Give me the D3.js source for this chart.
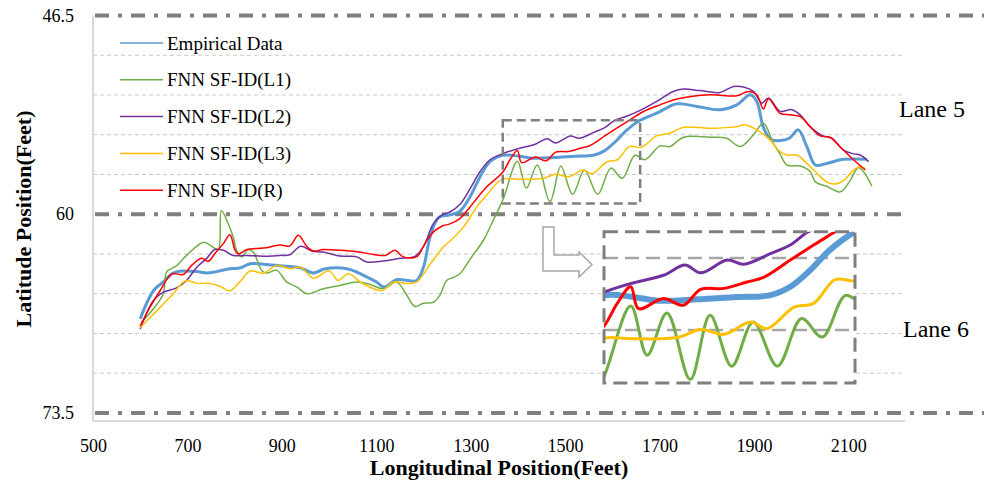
<!DOCTYPE html>
<html>
<head>
<meta charset="utf-8">
<script src="https://cdn.jsdelivr.net/npm/d3@7"></script>
<style>
body { margin: 0; background: #fff; }
text { font-family: "Liberation Serif", "Times New Roman", serif; fill: #000; }
</style>
</head>
<body>
<div id="chart"></div>
<script>
// lane boundaries and light grid values (feet)
var laneLines = [46.5, 60, 73.5];
var gridLines = [49.2, 51.9, 54.6, 57.3, 62.7, 65.4, 68.1, 70.8];
var xTicks = [500, 700, 900, 1100, 1300, 1500, 1700, 1900, 2100];
var yTicks = [46.5, 60, 73.5];
var seriesNames = ["Empirical Data", "FNN SF-ID(L1)", "FNN SF-ID(L2)", "FNN SF-ID(L3)", "FNN SF-ID(R)"];
var seriesColors = ["#5b9bd5", "#70ad47", "#7030a0", "#ffc000", "#ff0000"];

var empiricalX = [600,628,649,670,691,720,741,762,790,811,833,861,896,938,967,990,1040,1073,1100,1117,1143,1185,1200,1214,1232,1256,1277,1299,1320,1341,1368,1400,1430,1476,1522,1560,1584,1607,1630,1659,1694,1737,1779,1828,1864,1892,1906,1920,1935,1955,1975,1994,2012,2030,2054,2090,2139];
var empiricalY = [67.1,65.2,64.6,64.0,63.86,63.9,64.0,63.9,63.7,63.66,63.36,63.4,63.5,63.63,64.0,63.72,63.72,64.15,64.6,64.95,64.45,64.5,63.6,61.55,60.23,60.05,59.8,58.8,57.45,56.43,56.0,56.05,56.2,56.15,56.06,56.0,55.68,55.06,54.3,53.62,53.14,52.5,52.68,52.9,52.57,51.89,52.34,54.1,54.9,55.0,54.84,54.27,55.4,56.66,56.55,56.27,56.27];

var l1X = [603,631,649,656,677,698,734,748,765,772,787,797,804,815,829,840,857,868,889,910,932,953,988,1023,1059,1087,1115,1143,1161,1182,1200,1221,1235,1249,1263,1277,1300,1327,1348,1369,1399,1418,1441,1468,1491,1516,1541,1569,1597,1621,1648,1669,1701,1722,1751,1807,1842,1871,1899,1920,1941,1955,1970,1998,2019,2030,2054,2083,2104,2121,2132,2150];
var l1Y = [67.34,66.3,65.4,63.93,63.5,62.8,61.9,62.1,62.4,59.75,60.7,61.55,62.45,62.9,62.4,62.6,63.8,64.0,63.8,64.6,64.95,65.4,65.07,64.84,64.6,64.77,65.07,64.6,65.3,66.27,66.05,65.98,65.5,64.5,64.3,64.05,63.0,61.77,60.4,58.96,56.4,58.24,56.66,59.15,56.75,58.65,57.0,58.65,56.87,57.56,56.0,56.3,55.36,55.4,54.77,54.77,54.84,55.4,54.6,53.82,55.18,55.9,56.66,56.73,57.1,57.8,58.1,58.48,57.7,56.82,57.1,58.1];

var l2X = [600,628,649,677,698,720,741,758,776,797,826,861,896,917,940,963,988,1016,1037,1059,1080,1115,1150,1182,1200,1221,1239,1256,1278,1299,1320,1341,1369,1399,1437,1462,1480,1511,1530,1561,1584,1605,1630,1659,1694,1729,1751,1786,1828,1857,1878,1899,1917,1931,1955,1980,1998,2019,2047,2065,2090,2111,2125,2143];
var l2Y = [67.8,65.86,65.3,65.0,64.5,63.6,63.0,62.4,62.45,62.8,62.8,62.86,62.8,62.75,62.18,62.5,62.57,62.8,62.86,62.9,63.25,63.18,63.0,62.86,62.2,60.64,60.07,59.85,59.3,58.25,57.1,56.3,55.87,55.56,55.25,54.87,55.16,54.68,54.84,54.44,54.12,53.62,53.35,52.95,52.34,51.66,51.5,51.6,51.73,51.32,51.36,51.66,52.45,52.1,53.0,52.9,53.25,54.05,54.7,54.84,55.64,55.9,55.98,56.43];

var l3X = [600,628,649,670,688,698,720,748,769,790,811,833,861,889,917,940,967,1000,1019,1041,1068,1112,1136,1164,1186,1214,1242,1260,1285,1313,1334,1355,1369,1399,1453,1480,1507,1538,1557,1588,1611,1636,1662,1694,1722,1751,1807,1864,1881,1906,1934,1955,1970,1991,2012,2033,2054,2072,2090,2111,2125,2136];
var l3Y = [67.7,66.8,66.1,65.4,64.7,64.5,64.7,64.7,64.9,65.2,64.6,63.86,64.0,63.48,63.7,63.6,64.35,63.85,64.5,64.05,64.65,65.18,64.6,64.7,64.6,63.4,62.23,61.7,60.86,59.5,58.7,57.9,57.6,57.62,57.58,57.28,57.46,57.0,57.25,56.45,56.3,55.41,55.45,54.68,54.5,54.1,54.16,54.05,53.93,54.27,54.95,55.75,55.98,55.98,56.55,57.2,57.8,57.95,57.7,57.0,56.77,56.9];

var rX = [600,621,642,667,691,709,730,744,758,776,790,801,808,826,861,896,917,935,953,967,988,1023,1059,1094,1119,1140,1157,1186,1203,1221,1240,1256,1277,1299,1313,1334,1368,1383,1399,1408,1437,1460,1480,1507,1534,1553,1584,1611,1634,1666,1701,1737,1807,1864,1888,1906,1920,1931,1955,1977,1998,2019,2040,2061,2083,2111,2136];
var rY = [67.6,66.3,65.2,64.05,64.1,63.48,63.0,63.2,62.68,62.0,61.4,62.45,62.7,62.4,62.3,62.1,62.15,61.43,62.2,62.5,62.4,62.45,62.55,62.73,62.8,62.45,62.9,62.88,62.0,61.2,60.8,60.66,60.3,59.5,58.93,58.14,57.15,56.32,55.68,56.5,56.12,56.37,55.78,55.74,55.5,55.33,54.68,54.12,53.66,53.02,52.57,52.18,51.89,51.95,51.66,51.89,52.85,52.15,53.14,53.25,53.36,54.05,54.68,54.77,55.45,56.3,57.0];

// zoomed window (data units) and where its enlargement sits
var zoomX = [1368, 1659];
var zoomY = [53.62, 59.28];
var zoomGrid = [54.6, 57.3];

var W = 984, H = 488;
var m = {l: 93, r: 905, t: 15.5, b: 421};
var serif = "'Liberation Serif', 'Times New Roman', serif";

var series = [
    {name: seriesNames[0], color: seriesColors[0], xs: empiricalX, ys: empiricalY, w: 3, wi: 6},
    {name: seriesNames[1], color: seriesColors[1], xs: l1X, ys: l1Y, w: 1.5, wi: 3},
    {name: seriesNames[2], color: seriesColors[2], xs: l2X, ys: l2Y, w: 1.5, wi: 3},
    {name: seriesNames[3], color: seriesColors[3], xs: l3X, ys: l3Y, w: 1.5, wi: 3},
    {name: seriesNames[4], color: seriesColors[4], xs: rX, ys: rY, w: 1.5, wi: 3}
];

var svg = d3.select("#chart").append("svg")
    .attr("width", W).attr("height", H)
    .attr("font-family", serif);

var x = d3.scaleLinear().domain([500, 2220]).range([m.l, m.r]);
var y = d3.scaleLinear().domain([46.5, 74.05]).range([m.t, m.b]);

// light dashed grid
svg.append("g").selectAll("line").data(gridLines).enter().append("line")
    .attr("x1", m.l).attr("x2", m.r)
    .attr("y1", function(d){ return y(d); }).attr("y2", function(d){ return y(d); })
    .attr("stroke", "#c8c8c8").attr("stroke-width", 1)
    .attr("stroke-dasharray", "4,3");

// axis frame lines
svg.append("line").attr("x1", m.l).attr("x2", m.l).attr("y1", m.t).attr("y2", m.b)
    .attr("stroke", "#d9d9d9").attr("stroke-width", 2);
svg.append("line").attr("x1", m.l).attr("x2", m.r).attr("y1", m.b).attr("y2", m.b)
    .attr("stroke", "#d9d9d9").attr("stroke-width", 2);

// lane boundaries (dash-dot)
svg.append("g").selectAll("line").data(laneLines).enter().append("line")
    .attr("x1", m.l + 2)
    .attr("x2", function(d){ return d == 60 ? m.r : W; })
    .attr("y1", function(d){ return y(d); }).attr("y2", function(d){ return y(d); })
    .attr("stroke", "#7f7f7f").attr("stroke-width", 4)
    .attr("stroke-dasharray", "14,9,4,9");

// axes
var xAxis = svg.append("g").attr("transform", "translate(0," + m.b + ")")
    .call(d3.axisBottom(x).tickValues(xTicks).tickSize(0).tickPadding(18)
        .tickFormat(function(d){ return String(d); }))
    .attr("font-family", serif).attr("font-size", 18);
xAxis.select(".domain").remove();
xAxis.selectAll("text").attr("fill", "#000");

var yAxis = svg.append("g").attr("transform", "translate(" + m.l + ",0)")
    .call(d3.axisLeft(y).tickValues(yTicks).tickSize(0).tickPadding(19)
        .tickFormat(function(d){ return String(d); }))
    .attr("font-family", serif).attr("font-size", 18);
yAxis.select(".domain").remove();
yAxis.selectAll("text").attr("fill", "#000");

// axis titles
svg.append("text").attr("x", 499).attr("y", 475)
    .attr("text-anchor", "middle").style("font-size", "22px").style("font-weight", "bold")
    .text("Longitudinal Position(Feet)");
svg.append("text")
    .attr("transform", "translate(31,219) rotate(-90)")
    .attr("text-anchor", "middle").style("font-size", "22px").style("font-weight", "bold")
    .text("Latitude Position(Feet)");

// lane labels
svg.append("text").attr("x", 899).attr("y", 117).style("font-size", "24px").text("Lane 5");
svg.append("text").attr("x", 903).attr("y", 337).style("font-size", "24px").text("Lane 6");

// data lines
var line = d3.line()
    .x(function(d){ return x(d[0]); })
    .y(function(d){ return y(d[1]); })
    .curve(d3.curveCatmullRom);

series.forEach(function(s){
    svg.append("path").datum(d3.zip(s.xs, s.ys))
        .attr("d", line).attr("fill", "none")
        .attr("stroke", s.color).attr("stroke-width", s.w)
        .attr("stroke-linejoin", "round");
});

// legend
var leg = svg.append("g").selectAll("g").data(series).enter().append("g")
    .attr("transform", function(d, i){ return "translate(120," + (43 + i * 36.8) + ")"; });
leg.append("line").attr("x1", 0).attr("x2", 43).attr("y1", 0).attr("y2", 0)
    .attr("stroke", function(d){ return d.color; }).attr("stroke-width", 1.5);
leg.append("text").attr("x", 47).attr("y", 6.5).style("font-size", "19px")
    .text(function(d){ return d.name; });

// box around the zoomed window
svg.append("rect")
    .attr("x", x(zoomX[0])).attr("y", y(zoomY[0]))
    .attr("width", x(zoomX[1]) - x(zoomX[0])).attr("height", y(zoomY[1]) - y(zoomY[0]))
    .attr("fill", "none").attr("stroke", "#7f7f7f").attr("stroke-width", 2.5)
    .attr("stroke-dasharray", "9,5");

// enlarged copy
var ins = {x0: 604, x1: 855, y0: 231.7, y1: 383};
var xi = d3.scaleLinear().domain(zoomX).range([ins.x0, ins.x1]);
var yi = d3.scaleLinear().domain(zoomY).range([ins.y0, ins.y1]);

svg.append("defs").append("clipPath").attr("id", "insclip").append("rect")
    .attr("x", ins.x0).attr("y", ins.y0)
    .attr("width", ins.x1 - ins.x0).attr("height", ins.y1 - ins.y0);

svg.append("rect").attr("x", ins.x0).attr("y", ins.y0)
    .attr("width", ins.x1 - ins.x0).attr("height", ins.y1 - ins.y0)
    .attr("fill", "#fff");

var inset = svg.append("g").attr("clip-path", "url(#insclip)");
inset.selectAll("line").data(zoomGrid).enter().append("line")
    .attr("x1", ins.x0).attr("x2", ins.x1)
    .attr("y1", function(d){ return yi(d); }).attr("y2", function(d){ return yi(d); })
    .attr("stroke", "#a6a6a6").attr("stroke-width", 2.5)
    .attr("stroke-dasharray", "14,7");

var lineIn = d3.line()
    .x(function(d){ return xi(d[0]); })
    .y(function(d){ return yi(d[1]); })
    .curve(d3.curveCatmullRom);

series.forEach(function(s){
    inset.append("path").datum(d3.zip(s.xs, s.ys))
        .attr("d", lineIn).attr("fill", "none")
        .attr("stroke", s.color).attr("stroke-width", s.wi)
        .attr("stroke-linejoin", "round");
});

svg.append("rect").attr("x", ins.x0).attr("y", ins.y0)
    .attr("width", ins.x1 - ins.x0).attr("height", ins.y1 - ins.y0)
    .attr("fill", "none").attr("stroke", "#7f7f7f").attr("stroke-width", 3)
    .attr("stroke-dasharray", "14,7");

// hollow bent arrow pointing to the enlargement
var arrow = [[543,227],[554,227],[554,255],[579,255],[579,252],[592,264.5],[579,277],[579,271],[543,271]];
svg.append("path")
    .attr("d", "M" + arrow.join("L") + "Z")
    .attr("fill", "#fff").attr("stroke", "#a6a6a6").attr("stroke-width", 1.5);
</script>
</body>
</html>
